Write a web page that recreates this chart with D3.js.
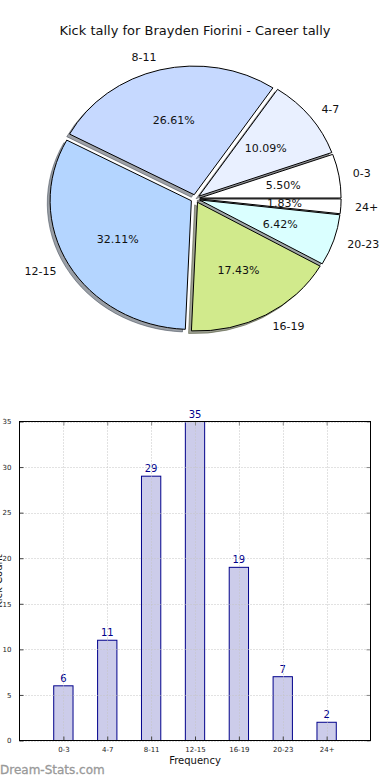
<!DOCTYPE html>
<html>
<head>
<meta charset="utf-8">
<script src="https://cdn.jsdelivr.net/npm/d3@7"></script>
<style>
  html, body { margin: 0; padding: 0; background: #fff; }
  svg { display: block; font-family: "DejaVu Sans", sans-serif; }
</style>
</head>
<body>
<svg id="chart" width="390" height="780"></svg>
<script>
// ---- data ----
const categories = ["0-3", "4-7", "8-11", "12-15", "16-19", "20-23", "24+"];
const counts = [6, 11, 29, 35, 19, 7, 2];
const sliceColors = ["#ffffff", "#e9f0ff", "#c6d9ff", "#b4d5ff", "#d1ea8c", "#daffff", "#ffffff"];
const yTicks = [0, 5, 10, 15, 20, 25, 30, 35];
const titleText = "Kick tally for Brayden Fiorini - Career tally";
const xLabelText = "Frequency";
const yLabelText = "Kick Count";
const watermarkText = "Dream-Stats.com";

(function () {
const svg = d3.select("#chart");
const total = d3.sum(counts);

// ---- title ----
svg.append("text")
  .attr("x", 195).attr("y", 35)
  .attr("text-anchor", "middle")
  .attr("font-size", 13).attr("fill", "#111")
  .text(titleText);

// ---- pie (matplotlib style: start at 3 o'clock, counter-clockwise, elliptical) ----
const cx = 195.3, cy = 198.7, rx = 141.3, ry = 128.7, explode = 0.032;
const pie = d3.pie().sort(null).startAngle(Math.PI / 2).endAngle(Math.PI / 2 - 2 * Math.PI);
const arcs = pie(counts);
const arc = d3.arc().innerRadius(0).outerRadius(1);

const pieG = svg.append("g").attr("transform", `translate(${cx},${cy}) scale(${rx},${ry})`);
function mid(d) { return (d.startAngle + d.endAngle) / 2; }
function off(d) { const m = mid(d); return [explode * Math.sin(m), -explode * Math.cos(m)]; }
function shade(i) { const c = d3.rgb(sliceColors[i]); return d3.rgb(c.r * 0.3, c.g * 0.3, c.b * 0.3).toString(); }

// shadows first (below all wedges)
pieG.selectAll("path.shadow").data(arcs).enter().append("path")
  .attr("class", "shadow")
  .attr("d", arc)
  .attr("transform", d => { const o = off(d); return `translate(${o[0] - 0.02},${o[1] + 0.02})`; })
  .attr("fill", (d, i) => shade(i))
  .attr("fill-opacity", 0.5)
  .attr("stroke", (d, i) => shade(i))
  .attr("stroke-opacity", 0.5)
  .attr("stroke-width", 1)
  .attr("vector-effect", "non-scaling-stroke");

pieG.selectAll("path.wedge").data(arcs).enter().append("path")
  .attr("class", "wedge")
  .attr("d", arc)
  .attr("transform", d => { const o = off(d); return `translate(${o[0]},${o[1]})`; })
  .attr("fill", (d, i) => sliceColors[i])
  .attr("stroke", "#000")
  .attr("stroke-width", 1)
  .attr("vector-effect", "non-scaling-stroke");

// category labels at 1.1 radius, percentages at 0.6 radius
const labelG = svg.append("g");
arcs.forEach((d, i) => {
  const m = mid(d);
  const ux = Math.sin(m), uy = -Math.cos(m);
  const lx = cx + rx * (1.1 + explode) * ux;
  const ly = cy + ry * (1.1 + explode) * uy;
  labelG.append("text")
    .attr("x", lx).attr("y", ly)
    .attr("dy", "0.35em")
    .attr("text-anchor", ux >= 0 ? "start" : "end")
    .attr("font-size", 11).attr("fill", "#111")
    .text(categories[i]);
  const px = cx + rx * (0.6 + explode) * ux;
  const py = cy + ry * (0.6 + explode) * uy;
  labelG.append("text")
    .attr("x", px).attr("y", py)
    .attr("dy", "0.35em")
    .attr("text-anchor", "middle")
    .attr("font-size", 11).attr("fill", "#111")
    .text((counts[i] / total * 100).toFixed(2) + "%");
});

// ---- bar chart ----
const pLeft = 19.5, pRight = 370.5, pTop = 421.5, pBottom = 740.5;
const x = d3.scalePoint().domain(categories).range([pLeft, pRight]).padding(1);
const y = d3.scaleLinear().domain([0, 35]).range([pBottom, pTop]);
const barW = x.step() * 0.44;

const barG = svg.append("g");
barG.selectAll("rect.bar").data(counts).enter().append("rect")
  .attr("class", "bar")
  .attr("x", (d, i) => x(categories[i]) - barW / 2)
  .attr("y", d => y(d))
  .attr("width", barW)
  .attr("height", d => y(0) - y(d))
  .attr("fill", "#ccccea")
  .attr("stroke", "#00008b")
  .attr("stroke-width", 1);

// grid (drawn over bars)
const gridG = svg.append("g").attr("stroke", "#c4c4c4").attr("stroke-width", 1).attr("stroke-dasharray", "1,2");
gridG.selectAll("line.vg").data(categories).enter().append("line")
  .attr("x1", d => Math.round(x(d)) + 0.5).attr("x2", d => Math.round(x(d)) + 0.5)
  .attr("y1", pTop).attr("y2", pBottom);
gridG.selectAll("line.hg").data(yTicks).enter().append("line")
  .attr("y1", d => Math.round(y(d)) + 0.5).attr("y2", d => Math.round(y(d)) + 0.5)
  .attr("x1", pLeft).attr("x2", pRight);

// axes with inside ticks
const yAxis = d3.axisLeft(y).tickValues(yTicks).tickSizeInner(-4).tickSizeOuter(0).tickPadding(8);
const yg = svg.append("g").attr("transform", `translate(${pLeft},0)`).call(yAxis);
yg.select(".domain").remove();
yg.selectAll("text").attr("font-size", 7).attr("fill", "#222").attr("font-family", "DejaVu Sans, sans-serif");
yg.selectAll("line").attr("stroke", "#444");

const yAxisR = d3.axisRight(y).tickValues(yTicks).tickSizeInner(-4).tickSizeOuter(0).tickFormat("");
const ygr = svg.append("g").attr("transform", `translate(${pRight},0)`).call(yAxisR);
ygr.select(".domain").remove();
ygr.selectAll("line").attr("stroke", "#888");

const xAxis = d3.axisBottom(x).tickSizeInner(-4).tickSizeOuter(0).tickPadding(7);
const xg = svg.append("g").attr("transform", `translate(0,${pBottom})`).call(xAxis);
xg.select(".domain").remove();
xg.selectAll("text").attr("font-size", 7).attr("fill", "#222").attr("font-family", "DejaVu Sans, sans-serif");
xg.selectAll("line").attr("stroke", "#444");

const xAxisT = d3.axisTop(x).tickSizeInner(-4).tickSizeOuter(0).tickFormat("");
const xgt = svg.append("g").attr("transform", `translate(0,${pTop})`).call(xAxisT);
xgt.select(".domain").remove();
xgt.selectAll("line").attr("stroke", "#888");

// frame
svg.append("rect")
  .attr("x", pLeft).attr("y", pTop)
  .attr("width", pRight - pLeft).attr("height", pBottom - pTop)
  .attr("fill", "none").attr("stroke", "#000").attr("stroke-width", 1);

// value labels
barG.selectAll("text.val").data(counts).enter().append("text")
  .attr("class", "val")
  .attr("x", (d, i) => x(categories[i]))
  .attr("y", d => y(d) - 4)
  .attr("text-anchor", "middle")
  .attr("font-size", 10).attr("fill", "#00008b")
  .text(d => d);

// axis labels
svg.append("text")
  .attr("x", (pLeft + pRight) / 2).attr("y", 764)
  .attr("text-anchor", "middle")
  .attr("font-size", 10).attr("fill", "#111")
  .text(xLabelText);

// y label: in the reference it sits mostly beyond the left edge
svg.append("text")
  .attr("transform", `translate(2,${(pTop + pBottom) / 2}) rotate(-90)`)
  .attr("text-anchor", "middle")
  .attr("font-size", 10).attr("fill", "#111")
  .text(yLabelText);

// watermark
svg.append("text")
  .attr("x", 0).attr("y", 774)
  .attr("font-size", 12).attr("fill", "#999")
  .attr("stroke", "#999").attr("stroke-width", 0.3)
  .text(watermarkText);
})();
</script>
</body>
</html>
